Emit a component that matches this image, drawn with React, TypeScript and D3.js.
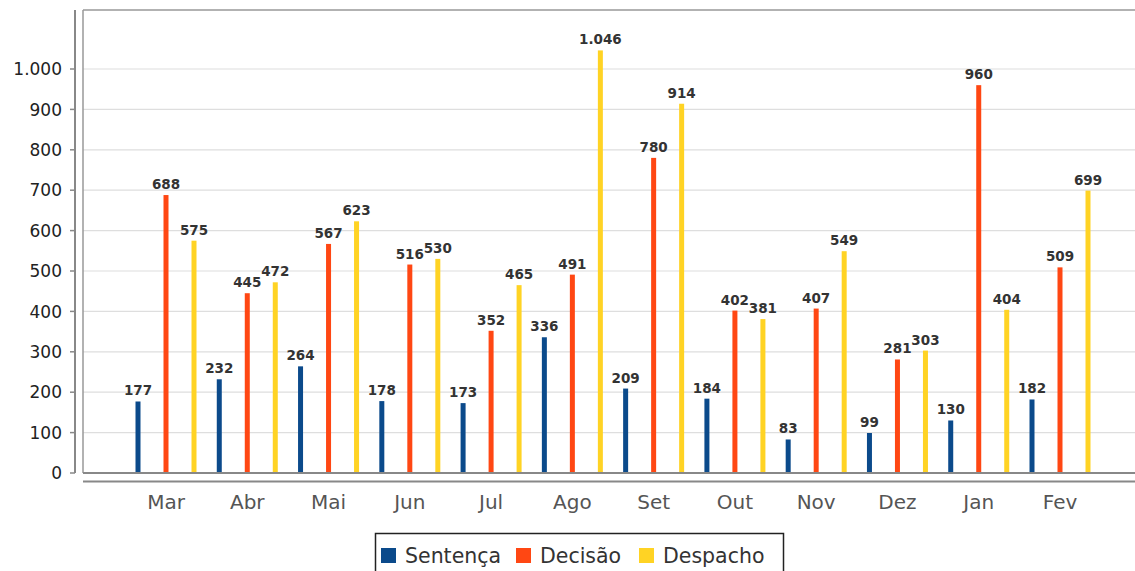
import React from "react";
import * as d3 from "d3";

const months = ["Mar", "Abr", "Mai", "Jun", "Jul", "Ago", "Set", "Out", "Nov", "Dez", "Jan", "Fev"];
const seriesNames = ["Sentença", "Decisão", "Despacho"];
const sentenca = [177, 232, 264, 178, 173, 336, 209, 184, 83, 99, 130, 182];
const decisao = [688, 445, 567, 516, 352, 491, 780, 402, 407, 281, 960, 509];
const despacho = [575, 472, 623, 530, 465, 1046, 914, 381, 549, 303, 404, 699];
const yTicks = [0, 100, 200, 300, 400, 500, 600, 700, 800, 900, 1000];
const colors = ["#0b4a8b", "#ff4713", "#ffd324"];

const W = 1135, H = 571;
const FONT = "DejaVu Sans, sans-serif";

export default function App() {
  const seriesValues = [sentenca, decisao, despacho];
  const y = d3.scaleLinear().domain([0, 1000]).range([473, 69]);
  const x = d3.scalePoint<string>().domain(months).range([166, 1060]);
  const sub = d3.scalePoint<string>().domain(seriesNames).range([-28, 28]);
  const fmt = d3.formatLocale({ decimal: ",", thousands: ".", grouping: [3], currency: ["R$", ""] }).format(",d");
  const barW = 5;

  const legendItems = [
    { name: seriesNames[0], sq: 381, tx: 405 },
    { name: seriesNames[1], sq: 516, tx: 540 },
    { name: seriesNames[2], sq: 639, tx: 663 },
  ];

  return (
    <svg width={W} height={H} style={{ position: "absolute", left: 0, top: 0, background: "#fff" }} fontFamily={FONT}>
      <rect x={0} y={0} width={W} height={H} fill="#fff" />
      {/* gridlines */}
      {yTicks.map((t) => (
        <line key={"g" + t} x1={83} x2={W} y1={y(t)} y2={y(t)} stroke="#dedede" strokeWidth={1.2} />
      ))}
      {/* plot border */}
      <line x1={83} x2={W} y1={10} y2={10} stroke="#999" strokeWidth={1.5} />
      <line x1={83} x2={83} y1={10} y2={473} stroke="#999" strokeWidth={1.5} />
      {/* y axis */}
      <line x1={75} x2={75} y1={10} y2={473} stroke="#888" strokeWidth={2} />
      {yTicks.map((t) => (
        <g key={"t" + t}>
          <line x1={70} x2={75} y1={y(t)} y2={y(t)} stroke="#888" strokeWidth={1.5} />
          <text x={62} y={y(t)} dy="0.36em" textAnchor="end" fontSize={17} fill="#222">
            {fmt(t)}
          </text>
        </g>
      ))}
      {/* bars */}
      {seriesValues.map((vals, si) =>
        vals.map((v, i) => {
          const cx = (x(months[i]) as number) + (sub(seriesNames[si]) as number);
          return (
            <g key={si + "-" + i}>
              <rect x={cx - barW / 2} y={y(v)} width={barW} height={y(0) - y(v)} fill={colors[si]} />
              <text x={cx} y={y(v) - 6} textAnchor="middle" fontSize={13.5} fontWeight="bold" fill="#333">
                {fmt(v)}
              </text>
            </g>
          );
        })
      )}
      {/* zero line */}
      <line x1={83} x2={W} y1={473} y2={473} stroke="#888" strokeWidth={2} />
      {/* domain axis */}
      <line x1={83} x2={W} y1={481.5} y2={481.5} stroke="#888" strokeWidth={2} />
      {months.map((m) => (
        <text key={m} x={x(m)} y={509} textAnchor="middle" fontSize={20} fill="#555">
          {m}
        </text>
      ))}
      {/* legend */}
      <rect x={375.5} y={533.5} width={408} height={45} fill="#fff" stroke="#222" strokeWidth={1.5} />
      {legendItems.map((it, i) => (
        <g key={it.name}>
          <rect x={it.sq} y={548} width={15} height={15} fill={colors[i]} />
          <text x={it.tx} y={563} fontSize={20.5} fill="#333">
            {it.name}
          </text>
        </g>
      ))}
    </svg>
  );
}
